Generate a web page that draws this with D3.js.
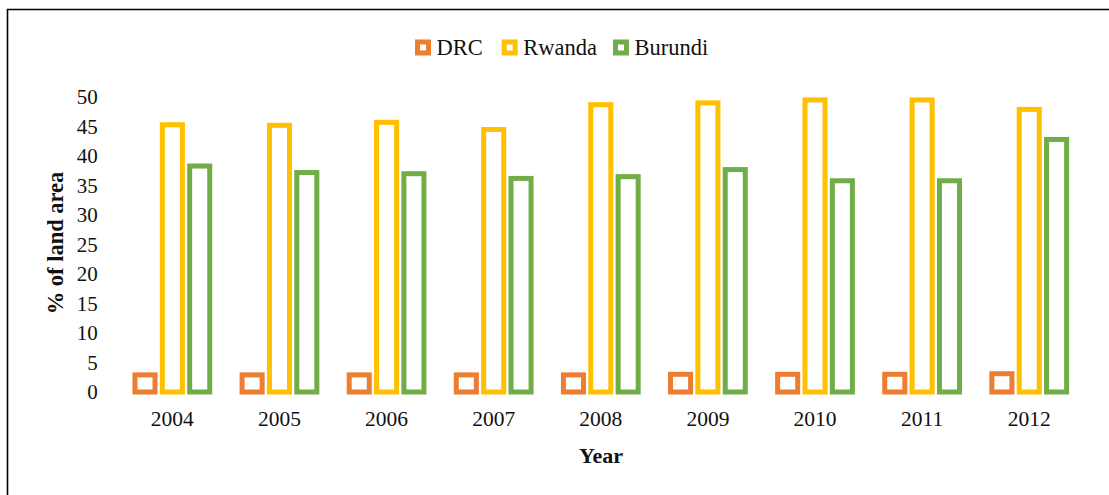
<!DOCTYPE html>
<html>
<head>
<meta charset="utf-8">
<script src="https://cdn.jsdelivr.net/npm/d3@7"></script>
<style>
  html, body { margin: 0; padding: 0; background: #fff; }
  svg { display: block; }
  text { font-family: "Liberation Serif", "DejaVu Serif", serif; fill: #111; }
</style>
</head>
<body>
<svg id="chart" width="1109" height="495"></svg>
<script>
// Protected area as a share of land area, by country and year
const years = ["2004", "2005", "2006", "2007", "2008", "2009", "2010", "2011", "2012"];
const countries = ["DRC", "Rwanda", "Burundi"];
const drc = [2.9, 2.9, 2.9, 2.9, 2.9, 3.0, 3.0, 3.0, 3.1];
const rwanda = [45.3, 45.2, 45.7, 44.5, 48.7, 49.0, 49.5, 49.5, 47.9];
const burundi = [38.3, 37.2, 37.0, 36.2, 36.5, 37.7, 35.8, 35.8, 42.8];
const yTicks = [0, 5, 10, 15, 20, 25, 30, 35, 40, 45, 50];
const colors = ["#ED7D31", "#FFC000", "#70AD47"];

const seriesValues = [drc, rwanda, burundi];
const rows = years.map((y, i) => ({
  year: y,
  values: countries.map((c, j) => ({ country: c, value: seriesValues[j][i] }))
}));

const svg = d3.select("#chart");
const W = 1109, H = 495;

// outer frame (top and left edges)
svg.append("path")
  .attr("d", `M7.5,${H} L7.5,9.5 L${W},9.5`)
  .attr("fill", "none")
  .attr("stroke", "#000")
  .attr("stroke-width", 1.6);

const plot = { left: 118.8, right: 1082.8, top: 97, bottom: 392 };

const x0 = d3.scaleBand()
  .domain(years)
  .range([plot.left, plot.right])
  .paddingInner(0.234)
  .paddingOuter(0.117);

const x1 = d3.scaleBand()
  .domain(countries)
  .range([0, x0.bandwidth()])
  .padding(0);

const y = d3.scaleLinear().domain([0, 50]).range([plot.bottom, plot.top]);
const color = d3.scaleOrdinal().domain(countries).range(colors);

const strokeW = 5;
const rectW = x1.bandwidth() - 7.3;

// bars: outlined, white-filled
const groups = svg.append("g").selectAll("g")
  .data(rows)
  .join("g")
  .attr("transform", d => `translate(${x0(d.year)},0)`);

groups.selectAll("rect")
  .data(d => d.values)
  .join("rect")
  .attr("x", d => x1(d.country) + (x1.bandwidth() - rectW) / 2)
  .attr("y", d => y(d.value))
  .attr("width", rectW)
  .attr("height", d => y(0) - y(d.value))
  .attr("fill", "#fff")
  .attr("stroke", d => color(d.country))
  .attr("stroke-width", strokeW);

// y axis (labels only)
const yAxis = svg.append("g")
  .attr("transform", `translate(${plot.left - 14},0)`)
  .call(d3.axisLeft(y).tickValues(yTicks).tickSize(0).tickPadding(7));
yAxis.select(".domain").remove();
yAxis.selectAll("text")
  .style("font-family", "'Liberation Serif', serif")
  .style("font-size", "21px")
  .attr("fill", "#111");

// x axis (labels only)
const xAxis = svg.append("g")
  .attr("transform", `translate(0,${plot.bottom + 15})`)
  .call(d3.axisBottom(x0).tickSize(0).tickPadding(4));
xAxis.select(".domain").remove();
xAxis.selectAll("text")
  .style("font-family", "'Liberation Serif', serif")
  .style("font-size", "21.5px")
  .attr("fill", "#111");

// axis titles
svg.append("text")
  .attr("transform", "translate(55,243) rotate(-90)")
  .attr("text-anchor", "middle")
  .attr("dominant-baseline", "central")
  .style("font-size", "22.5px")
  .style("font-weight", "bold")
  .text("% of land area");

svg.append("text")
  .attr("x", 601)
  .attr("y", 455)
  .attr("text-anchor", "middle")
  .attr("dominant-baseline", "central")
  .style("font-size", "22px")
  .style("font-weight", "bold")
  .text("Year");

// legend
const legendX = [415, 501.7, 613];
const legend = svg.append("g").selectAll("g")
  .data(countries)
  .join("g")
  .attr("transform", (d, i) => `translate(${legendX[i]},47.5)`);

legend.append("rect")
  .attr("x", 2.5)
  .attr("y", -5.5)
  .attr("width", 11)
  .attr("height", 11)
  .attr("fill", "#fff")
  .attr("stroke", d => color(d))
  .attr("stroke-width", 5);

legend.append("text")
  .attr("x", 21.5)
  .attr("y", 0)
  .attr("dominant-baseline", "central")
  .style("font-size", "22.5px")
  .text(d => d);
</script>
</body>
</html>
